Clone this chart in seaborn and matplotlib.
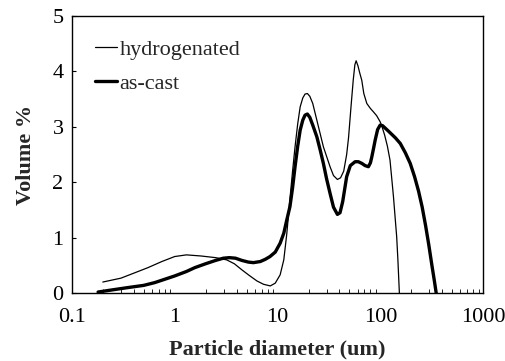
import seaborn as sns
import pandas as pd
from matplotlib import pyplot as plt
import matplotlib.ticker as mticker

# valores
hyd_d = [0.2, 0.3, 0.4, 0.55, 0.75, 1.0, 1.3, 1.8, 2.5, 3.2, 3.8, 4.5, 5.3, 6.3, 7.3, 8.5, 9.5,
         10.6, 11.5, 12.3, 13.2, 14.0, 14.8, 15.7, 16.6, 17.6, 18.5, 19.5, 20.6, 22.0, 24.1, 27.9,
         32.4, 35, 38.2, 41, 44, 47, 49, 52, 54.5, 56.5, 58.1, 60.5, 63, 65.9, 69, 73.8, 80, 85.5,
         92, 99.5, 103, 110, 117, 124, 130, 134, 140, 144, 148, 153]
hyd_v = [0.2, 0.27, 0.36, 0.46, 0.57, 0.66, 0.69, 0.67, 0.64, 0.6, 0.53, 0.42, 0.32, 0.22, 0.16,
         0.13, 0.18, 0.33, 0.6, 1.07, 1.7, 2.2, 2.64, 3.05, 3.36, 3.52, 3.59, 3.6, 3.55, 3.42,
         3.12, 2.64, 2.28, 2.12, 2.05, 2.08, 2.2, 2.5, 2.8, 3.4, 3.85, 4.12, 4.19, 4.1, 3.97,
         3.84, 3.6, 3.42, 3.33, 3.27, 3.2, 3.09, 3.02, 2.85, 2.65, 2.4, 2.0, 1.74, 1.3, 1.02,
         0.6, 0.0]

cast_d = [0.18, 0.25, 0.35, 0.5, 0.64, 0.8, 1.0, 1.3, 1.57, 2.0, 2.5, 2.97, 3.4, 3.9, 4.5, 5.2,
          5.82, 6.8, 7.6, 8.45, 9.5, 10.6, 11.5, 12.3, 13.2, 14.0, 14.8, 15.7, 16.6, 17.6, 18.5,
          19.5, 20.6, 22, 24.1, 26, 27.9, 30, 32.4, 35, 38.2, 40.5, 43, 47, 51, 56.8, 61, 66, 71,
          76.5, 80, 82.6, 86, 89, 94, 99.5, 105, 120, 140, 156, 175, 195, 215, 235, 255, 275,
          295, 317, 335, 349]
cast_v = [0.02, 0.06, 0.1, 0.14, 0.19, 0.25, 0.31, 0.39, 0.46, 0.53, 0.59, 0.63, 0.64, 0.63,
          0.59, 0.56, 0.55, 0.57, 0.61, 0.66, 0.74, 0.9, 1.08, 1.32, 1.56, 1.9, 2.28, 2.65, 2.94,
          3.12, 3.21, 3.23, 3.17, 3.03, 2.82, 2.58, 2.34, 2.06, 1.8, 1.55, 1.42, 1.45, 1.65, 2.1,
          2.3, 2.37, 2.37, 2.34, 2.3, 2.28, 2.35, 2.46, 2.62, 2.76, 2.95, 3.03, 3.02, 2.92, 2.8,
          2.7, 2.53, 2.34, 2.1, 1.84, 1.55, 1.22, 0.88, 0.5, 0.22, 0.0]

xticks = [0.1, 1, 10, 100, 1000]
xlabels = ['0.1', '1', '10', '100', '1000']
yticks = [0, 1, 2, 3, 4, 5]

df = pd.concat([
    pd.DataFrame({'d': hyd_d, 'v': hyd_v, 'amostra': 'hydrogenated'}),
    pd.DataFrame({'d': cast_d, 'v': cast_v, 'amostra': 'as-cast'}),
])

sns.set_style('ticks')
plt.rcParams['font.family'] = ['Liberation Serif', 'DejaVu Serif']

fig = plt.figure(figsize=(5.06, 3.61), dpi=100)
ax = fig.add_axes([0.142, 0.188, 0.813, 0.768])

sns.lineplot(data=df, x='d', y='v', hue='amostra', size='amostra',
             sizes={'hydrogenated': 0.9, 'as-cast': 2.4},
             palette={'hydrogenated': 'black', 'as-cast': 'black'},
             estimator=None, sort=False, ax=ax)

ax.set_xscale('log')
ax.set_xlim(0.1, 1000)
ax.set_ylim(0, 5)
ax.set_xticks(xticks, labels=xlabels)
ax.set_yticks(yticks)
ax.xaxis.set_minor_locator(mticker.LogLocator(base=10, subs=range(2, 10), numticks=20))
ax.xaxis.set_minor_formatter(mticker.NullFormatter())
ax.tick_params(axis='both', which='both', direction='in', labelsize=16, colors='black')
ax.tick_params(axis='x', which='major', length=0, pad=11)
ax.tick_params(axis='x', which='minor', length=3)
ax.tick_params(axis='y', which='major', length=3, pad=6)
for s in ax.spines.values():
    s.set_visible(True)
    s.set_linewidth(1.0)
    s.set_color('black')

ax.set_xlabel('Particle diameter (um)', fontsize=16, fontweight='bold', labelpad=9)
ax.set_ylabel('Volume %', fontsize=16, fontweight='bold', labelpad=12)

leg = ax.legend(loc='upper left', bbox_to_anchor=(0.056, 0.915), frameon=False, fontsize=16,
                handlelength=1.0, handletextpad=0.1, labelspacing=0.6, borderpad=0, borderaxespad=0)
for h in leg.legend_handles:
    h.set_color('black')

fig.savefig('out.png', dpi=100)
